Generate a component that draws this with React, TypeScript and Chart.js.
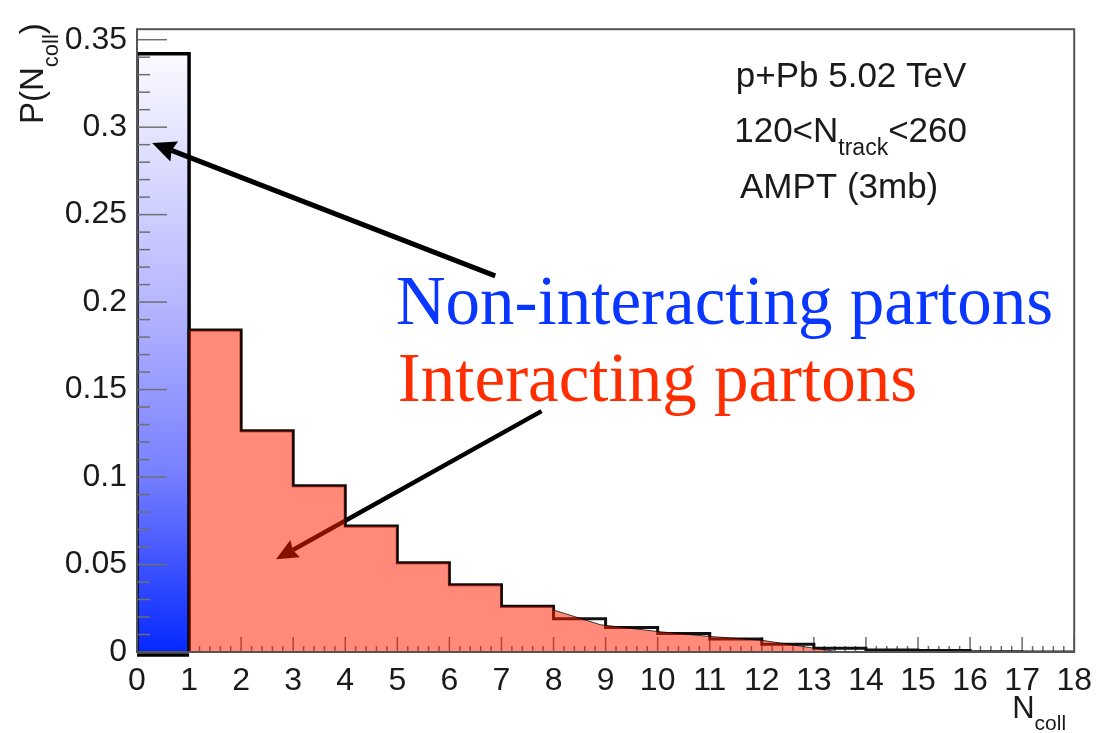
import { useEffect, useRef } from "react";
import { Chart, registerables } from "chart.js";

Chart.register(...registerables);

// N_coll bin edges for the interacting-parton histogram (bins 1-2 ... 17-18)
const N_COLL_EDGES = [1, 2, 3, 4, 5, 6, 7, 8, 9, 10, 11, 12, 13, 14, 15, 16, 17, 18];
// P(N_coll) for interacting partons, one value per bin
const INTERACTING = [
  0.184, 0.1265, 0.095, 0.072, 0.051, 0.0385, 0.0262, 0.019, 0.014, 0.0106, 0.0075,
  0.0045, 0.0022, 0.0012, 0.0008, 0.0002, 0,
];
// smoothed upper edge of the shaded area in the tail (N_coll >= 8)
const TAIL_X = [8, 8.9, 10, 11, 12, 13, 13.5];
const TAIL_Y = [0.024, 0.0156, 0.0117, 0.0089, 0.0067, 0.0022, 0];
// Non-interacting partons: single bin 0-1
const NON_INTERACTING_EDGES = [0, 1];
const NON_INTERACTING = [0.342];

const X_TICKS = [0, 1, 2, 3, 4, 5, 6, 7, 8, 9, 10, 11, 12, 13, 14, 15, 16, 17, 18];
const Y_TICKS = [0, 0.05, 0.1, 0.15, 0.2, 0.25, 0.3, 0.35];
const X_MIN = 0;
const X_MAX = 18;
const Y_MAX = 0.356;

const SANS = '"Liberation Sans", Arial, Helvetica, sans-serif';
const SERIF = '"Liberation Serif", "Times New Roman", serif';

type Pt = { x: number; y: number };

// outline of a histogram: up the first edge, across each bin, down the last edge
function histogramPoints(edges: number[], values: number[]): Pt[] {
  const pts: Pt[] = [{ x: edges[0], y: 0 }];
  values.forEach((v, i) => {
    pts.push({ x: edges[i], y: v }, { x: edges[i + 1], y: v });
  });
  pts.push({ x: edges[values.length], y: 0 });
  return pts;
}

const outlinePoints = histogramPoints(N_COLL_EDGES, INTERACTING);

const fillPoints: Pt[] = (() => {
  const pts: Pt[] = [{ x: N_COLL_EDGES[0], y: 0 }];
  for (let i = 0; i < N_COLL_EDGES.length - 1 && N_COLL_EDGES[i + 1] <= TAIL_X[0]; i++) {
    pts.push({ x: N_COLL_EDGES[i], y: INTERACTING[i] }, { x: N_COLL_EDGES[i + 1], y: INTERACTING[i] });
  }
  TAIL_X.forEach((x, i) => pts.push({ x, y: TAIL_Y[i] }));
  return pts;
})();

const blueBarPoints: Pt[] = histogramPoints(NON_INTERACTING_EDGES, NON_INTERACTING);

function drawArrow(
  ctx: CanvasRenderingContext2D,
  x0: number,
  y0: number,
  x1: number,
  y1: number,
  width: number,
  color: string,
  head: number
) {
  const ang = Math.atan2(y1 - y0, x1 - x0);
  const bx = x1 - Math.cos(ang) * head * 0.8;
  const by = y1 - Math.sin(ang) * head * 0.8;
  ctx.save();
  ctx.strokeStyle = color;
  ctx.fillStyle = color;
  ctx.lineWidth = width;
  ctx.lineCap = "butt";
  ctx.beginPath();
  ctx.moveTo(x0, y0);
  ctx.lineTo(bx, by);
  ctx.stroke();
  ctx.beginPath();
  ctx.moveTo(x1, y1);
  ctx.lineTo(x1 - Math.cos(ang - 0.42) * head, y1 - Math.sin(ang - 0.42) * head);
  ctx.lineTo(bx, by);
  ctx.lineTo(x1 - Math.cos(ang + 0.42) * head, y1 - Math.sin(ang + 0.42) * head);
  ctx.closePath();
  ctx.fill();
  ctx.restore();
}

// text with lowered subscript parts
function drawSubscripted(
  ctx: CanvasRenderingContext2D,
  parts: { text: string; sub?: boolean }[],
  x: number,
  y: number,
  size: number,
  subSize: number,
  subDrop: number,
  color: string
) {
  let cx = x;
  ctx.fillStyle = color;
  ctx.textBaseline = "alphabetic";
  ctx.textAlign = "left";
  for (const p of parts) {
    ctx.font = `${p.sub ? subSize : size}px ${SANS}`;
    ctx.fillText(p.text, cx, p.sub ? y + subDrop : y);
    cx += ctx.measureText(p.text).width;
  }
}

const decorations = {
  id: "decorations",
  beforeDatasetsDraw(chart: any) {
    const { ctx, chartArea: a, scales } = chart;
    const xs = scales.x;
    const ys = scales.y;
    ctx.save();
    // x-axis tick marks, pointing into the frame
    ctx.strokeStyle = "#6a6a6a";
    ctx.lineWidth = 1.5;
    for (let k = X_MIN * 5; k <= X_MAX * 5; k++) {
      const px = xs.getPixelForValue(k / 5);
      const len = k % 5 === 0 ? 15 : 6;
      ctx.beginPath();
      ctx.moveTo(px, a.bottom);
      ctx.lineTo(px, a.bottom - len);
      ctx.stroke();
    }
    ctx.restore();
    // arrow pointing into the interacting-parton histogram
    drawArrow(
      ctx,
      xs.getPixelForValue(7.77),
      ys.getPixelForValue(0.1377),
      xs.getPixelForValue(2.67),
      ys.getPixelForValue(0.053),
      4.5,
      "#000",
      24
    );
  },
  afterDatasetsDraw(chart: any) {
    const { ctx, chartArea: a, scales } = chart;
    const xs = scales.x;
    const ys = scales.y;
    ctx.save();
    // y-axis tick marks
    ctx.strokeStyle = "#6f6f6f";
    ctx.lineWidth = 1.5;
    for (let k = 0; k <= 35; k++) {
      const py = ys.getPixelForValue(k / 100);
      const len = k % 5 === 0 ? 30 : 13;
      ctx.beginPath();
      ctx.moveTo(a.left, py);
      ctx.lineTo(a.left + len, py);
      ctx.stroke();
    }
    // frame
    ctx.strokeStyle = "#555";
    ctx.lineWidth = 2;
    ctx.strokeRect(a.left, a.top, a.right - a.left, a.bottom - a.top);
    // bottom edge of the non-interacting bar, just below the axis
    ctx.strokeStyle = "#000";
    ctx.lineWidth = 3.5;
    ctx.beginPath();
    ctx.moveTo(xs.getPixelForValue(NON_INTERACTING_EDGES[0]), a.bottom + 3);
    ctx.lineTo(xs.getPixelForValue(NON_INTERACTING_EDGES[1]), a.bottom + 3);
    ctx.stroke();
    ctx.restore();

    // arrow onto the non-interacting bar
    drawArrow(
      ctx,
      xs.getPixelForValue(6.88),
      ys.getPixelForValue(0.215),
      xs.getPixelForValue(0.29),
      ys.getPixelForValue(0.291),
      5,
      "#000",
      26
    );

    ctx.save();
    // axis titles
    drawSubscripted(
      ctx,
      [{ text: "N" }, { text: "coll", sub: true }],
      xs.getPixelForValue(X_MAX) - 62,
      a.bottom + 66,
      31,
      21,
      12,
      "#1a1a1a"
    );
    ctx.save();
    ctx.translate(43, 124);
    ctx.rotate(-Math.PI / 2);
    drawSubscripted(
      ctx,
      [{ text: "P(N" }, { text: "coll", sub: true }, { text: ")" }],
      0,
      0,
      33,
      22,
      15,
      "#1a1a1a"
    );
    ctx.restore();

    // run information
    drawSubscripted(ctx, [{ text: "p+Pb 5.02 TeV" }], xs.getPixelForValue(11.5), ys.getPixelForValue(0.3231), 35, 23, 13, "#1a1a1a");
    drawSubscripted(
      ctx,
      [{ text: "120<N" }, { text: "track", sub: true }, { text: "<260" }],
      xs.getPixelForValue(11.47),
      ys.getPixelForValue(0.2913),
      35,
      23,
      13,
      "#1a1a1a"
    );
    drawSubscripted(ctx, [{ text: "AMPT (3mb)" }], xs.getPixelForValue(11.58), ys.getPixelForValue(0.2595), 35, 23, 13, "#1a1a1a");

    // labels of the two samples
    ctx.textAlign = "left";
    ctx.textBaseline = "alphabetic";
    ctx.font = `69px ${SERIF}`;
    ctx.fillStyle = "rgb(10, 55, 255)";
    ctx.fillText("Non-interacting partons", xs.getPixelForValue(4.97), ys.getPixelForValue(0.1875));
    ctx.fillStyle = "rgb(255, 45, 0)";
    ctx.fillText("Interacting partons", xs.getPixelForValue(5.01), ys.getPixelForValue(0.1434));
    ctx.restore();
  },
};

function blueGradient(context: any) {
  const chart = context.chart;
  const { chartArea, scales } = chart;
  if (!chartArea) return "rgb(120,130,255)";
  const top = scales.y.getPixelForValue(NON_INTERACTING[0]);
  const g = chart.ctx.createLinearGradient(0, top, 0, chartArea.bottom);
  g.addColorStop(0, "rgb(250, 250, 255)");
  g.addColorStop(0.4, "rgb(185, 185, 255)");
  g.addColorStop(0.7, "rgb(120, 128, 255)");
  g.addColorStop(1, "rgb(5, 40, 255)");
  return g;
}

export default function App() {
  const canvasRef = useRef<HTMLCanvasElement>(null);

  useEffect(() => {
    const canvas = canvasRef.current;
    if (!canvas) return;
    const chart = new Chart(canvas, {
      type: "line",
      data: {
        datasets: [
          {
            label: "Interacting partons (shaded)",
            data: fillPoints,
            borderColor: "rgba(0,0,0,0.75)",
            borderWidth: 1,
            backgroundColor: "rgba(255, 30, 0, 0.52)",
            fill: "origin",
            pointRadius: 0,
            tension: 0,
          },
          {
            label: "Interacting partons",
            data: outlinePoints,
            borderColor: "#111",
            borderWidth: 3,
            fill: false,
            pointRadius: 0,
            tension: 0,
          },
          {
            label: "Non-interacting partons",
            data: blueBarPoints,
            borderColor: "#000",
            borderWidth: 3.5,
            backgroundColor: blueGradient,
            fill: "origin",
            pointRadius: 0,
            tension: 0,
          },
        ],
      },
      options: {
        animation: false,
        responsive: false,
        devicePixelRatio: 1,
        layout: { padding: { left: 0, top: 14, right: 20, bottom: 0 } },
        plugins: {
          legend: { display: false },
          tooltip: { enabled: false },
        },
        scales: {
          x: {
            type: "linear",
            min: X_MIN,
            max: X_MAX,
            grid: { display: false, drawTicks: false },
            border: { display: false },
            afterBuildTicks: (scale: any) => {
              scale.ticks = X_TICKS.map((v) => ({ value: v }));
            },
            afterFit: (scale: any) => {
              scale.height = 81;
            },
            ticks: {
              autoSkip: false,
              maxRotation: 0,
              padding: 10,
              color: "#1a1a1a",
              font: { family: SANS, size: 32 },
              callback: (v: any) => String(v),
            },
          },
          y: {
            type: "linear",
            min: 0,
            max: Y_MAX,
            grid: { display: false, drawTicks: false },
            border: { display: false },
            afterBuildTicks: (scale: any) => {
              scale.ticks = Y_TICKS.map((v) => ({ value: v }));
            },
            afterFit: (scale: any) => {
              scale.width = 137;
            },
            ticks: {
              padding: 10,
              color: "#1a1a1a",
              font: { family: SANS, size: 32 },
              callback: (v: any) => String(Math.round(Number(v) * 100) / 100),
            },
          },
        },
      },
      plugins: [decorations],
    });
    return () => chart.destroy();
  }, []);

  return (
    <div style={{ position: "fixed", left: 0, top: 0, width: 1102, height: 733, background: "#fff" }}>
      <canvas ref={canvasRef} width={1102} height={733} style={{ display: "block", width: 1102, height: 733 }} />
    </div>
  );
}
